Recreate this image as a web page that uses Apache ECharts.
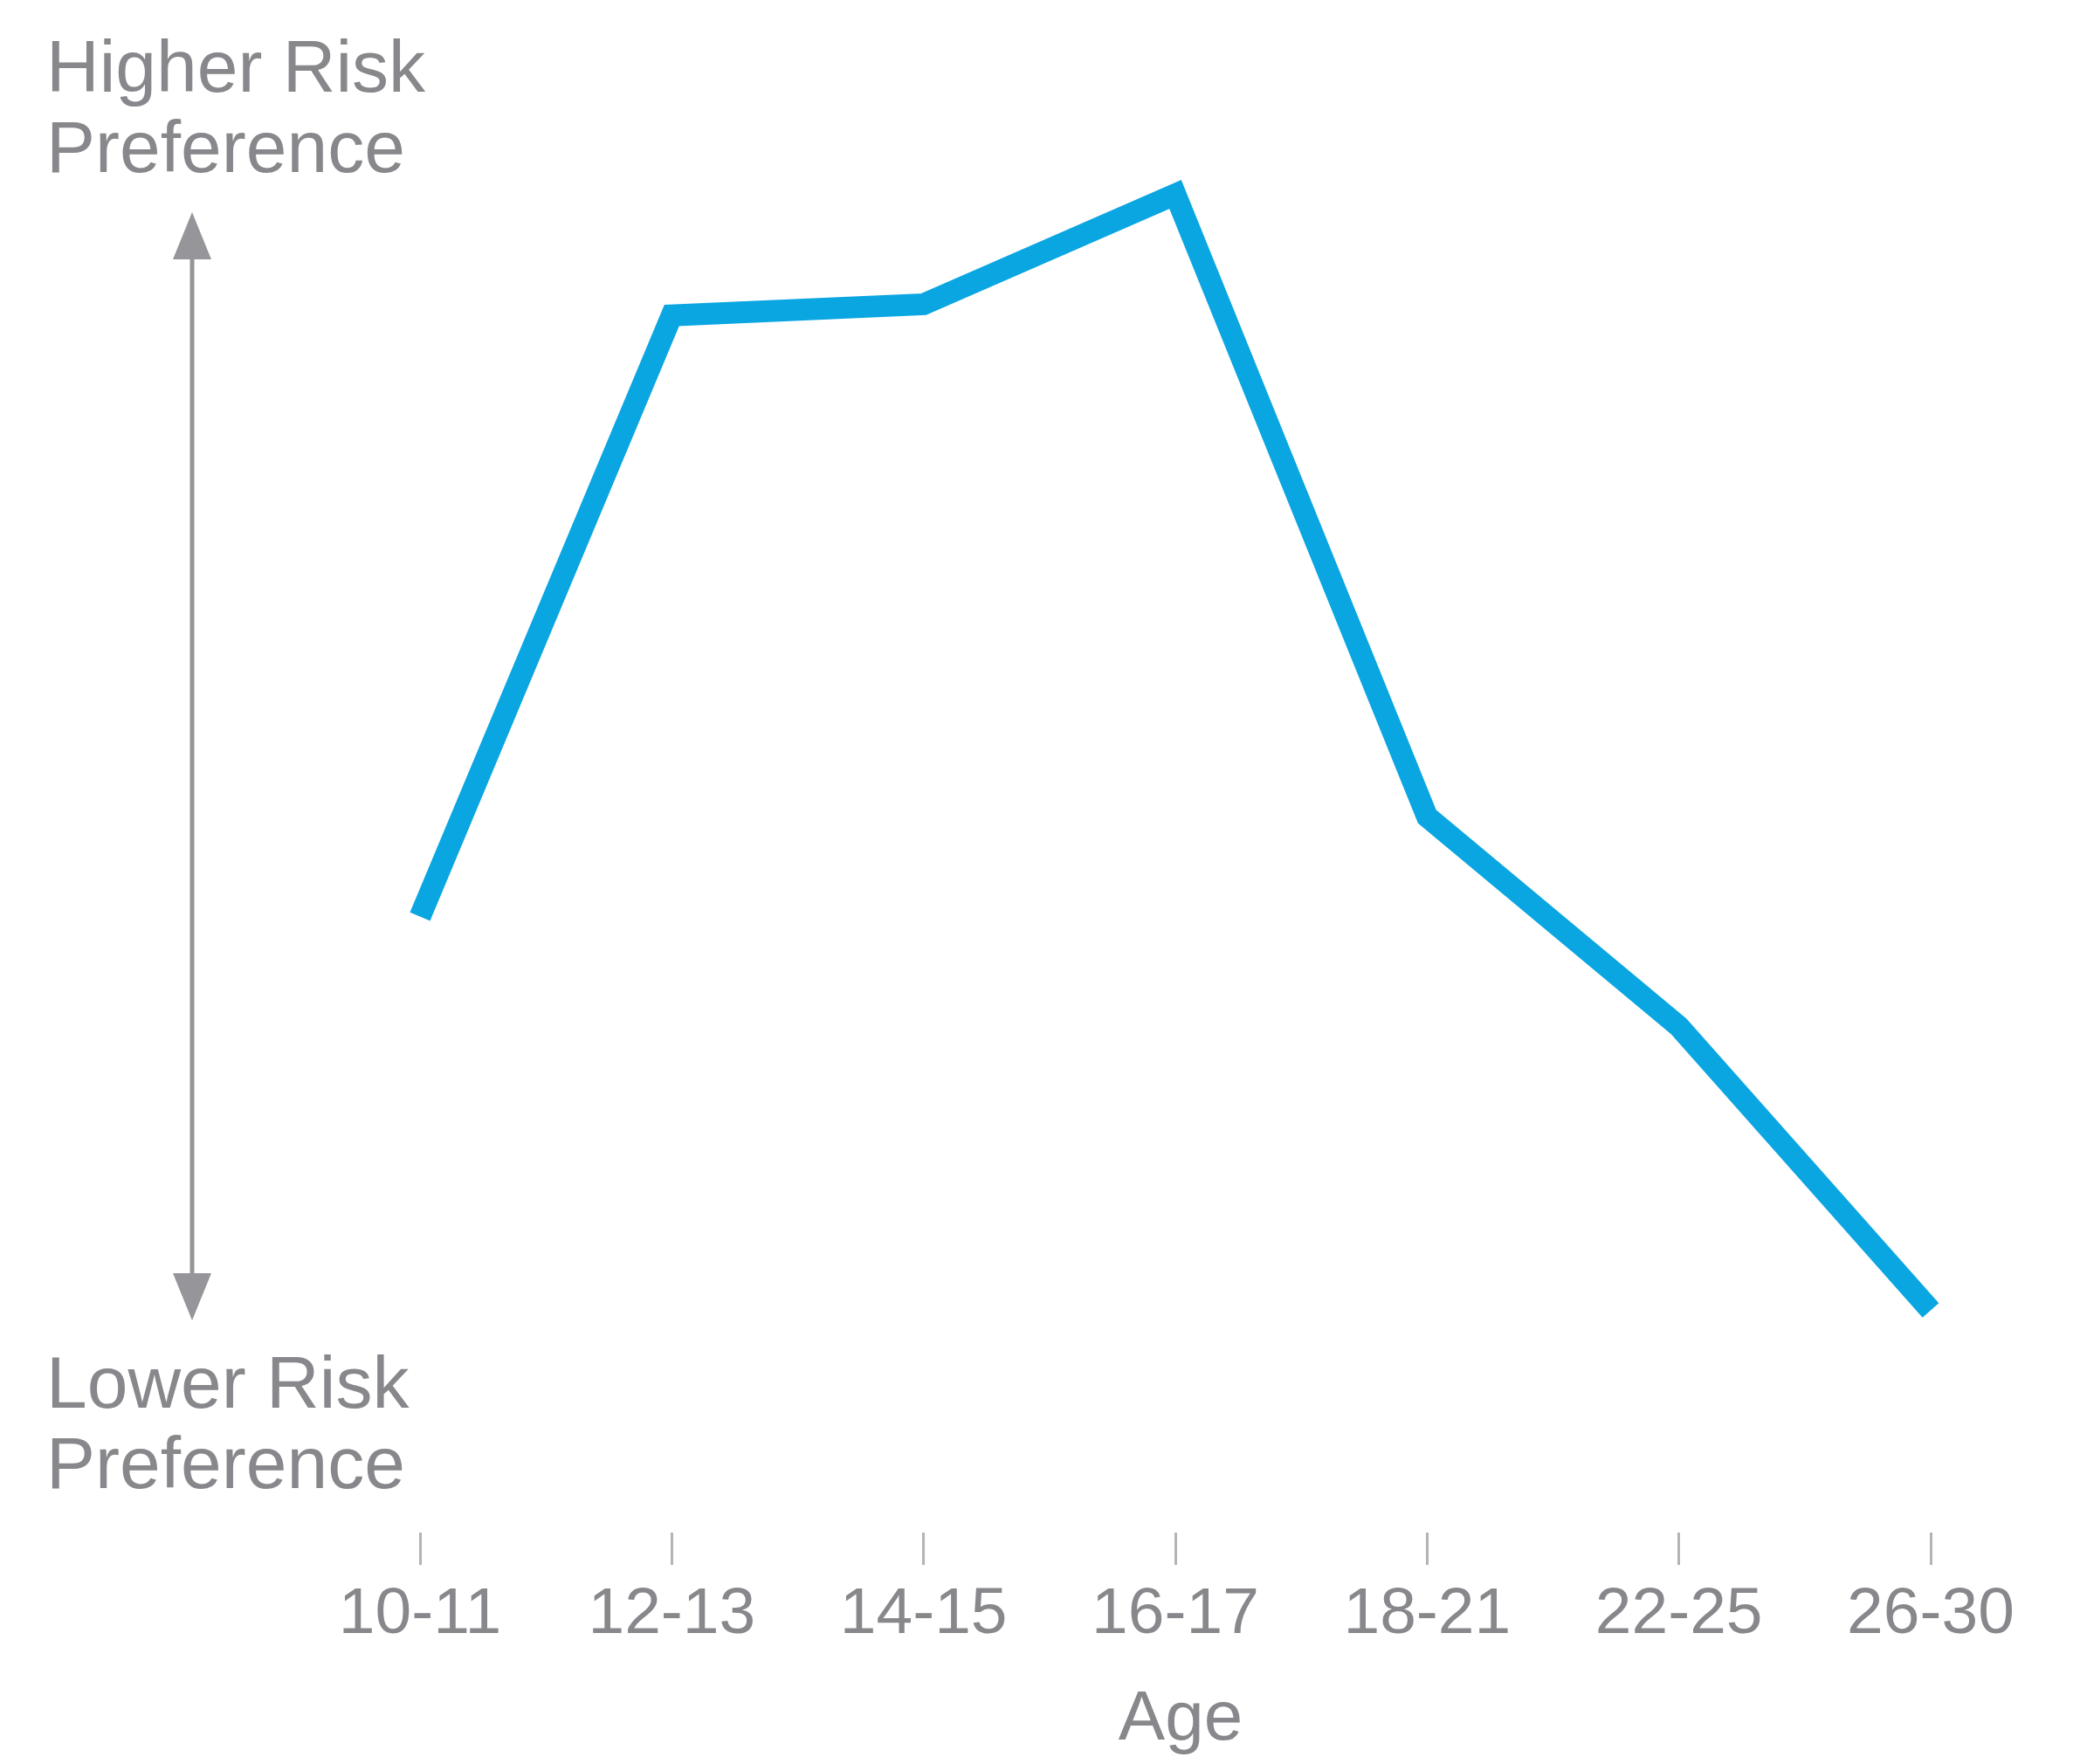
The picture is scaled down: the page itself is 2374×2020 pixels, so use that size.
<!DOCTYPE html>
<html>
<head>
<meta charset="utf-8">
<script src="https://cdn.jsdelivr.net/npm/echarts@6/dist/echarts.min.js"></script>
<style>
html,body{margin:0;padding:0;background:#fff;}
#chart{width:2374px;height:2020px;}
</style>
</head>
<body>
<div id="chart"></div>
<script>
const ageGroups = ['10-11', '12-13', '14-15', '16-17', '18-21', '22-25', '26-30'];
const riskPreference = [39.9, 88.6, 89.5, 98.4, 48.0, 31.0, 8.0];
const axisName = 'Age';
const topLabel = 'Higher Risk\nPreference';
const bottomLabel = 'Lower Risk\nPreference';

const textGray = '#88888c';
const arrowGray = '#95959a';
const fontFam = '"Liberation Sans", Arial, Helvetica, sans-serif';

const chart = echarts.init(document.getElementById('chart'));
chart.setOption({
  backgroundColor: '#ffffff',
  animation: false,
  grid: { left: 481, right: 163, top: 200, bottom: 265, containLabel: false, outerBoundsMode: 'none' },
  xAxis: {
    type: 'category',
    data: ageGroups,
    boundaryGap: false,
    axisLine: { show: false, onZero: false },
    axisTick: { show: true, inside: false, length: 37, lineStyle: { color: '#b4b4b8', width: 3 } },
    axisLabel: {
      color: textGray, fontSize: 75, fontFamily: fontFam,
      margin: 94, verticalAlign: 'middle', interval: 0
    },
    splitLine: { show: false },
    name: axisName,
    nameLocation: 'middle',
    nameGap: 215,
    nameTextStyle: { color: textGray, fontSize: 80, fontFamily: fontFam, verticalAlign: 'middle', padding: [0, 0, 0, 12] }
  },
  yAxis: {
    type: 'value', min: -10, max: 100, show: false
  },
  series: [{
    type: 'line',
    data: riskPreference,
    showSymbol: false,
    symbol: 'none',
    lineStyle: { color: '#0aa6e2', width: 25, cap: 'butt', join: 'miter' }
  }],
  graphic: [
    {
      type: 'text', left: 53, top: 36,
      style: { text: topLabel, fill: textGray, fontSize: 84, fontFamily: fontFam, lineHeight: 92 }
    },
    {
      type: 'text', left: 53, top: 1543,
      style: { text: bottomLabel, fill: textGray, fontSize: 84, fontFamily: fontFam, lineHeight: 92 }
    },
    {
      type: 'line',
      shape: { x1: 220, y1: 290, x2: 220, y2: 1462 },
      style: { stroke: arrowGray, lineWidth: 5 }
    },
    {
      type: 'polygon',
      shape: { points: [[220, 243], [242, 297], [198, 297]] },
      style: { fill: arrowGray }
    },
    {
      type: 'polygon',
      shape: { points: [[220, 1512], [242, 1458], [198, 1458]] },
      style: { fill: arrowGray }
    }
  ]
});
</script>
</body>
</html>
